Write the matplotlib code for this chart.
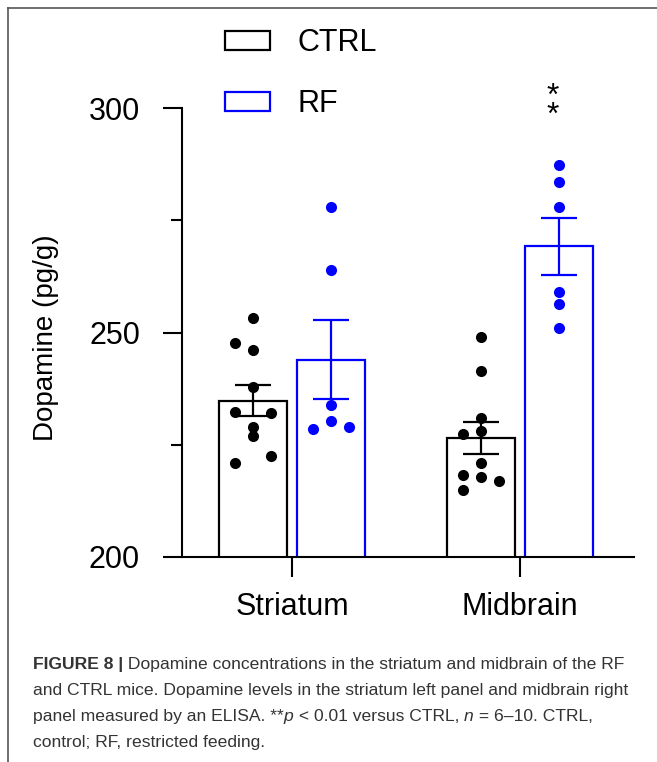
import matplotlib
matplotlib.use("Agg")
import matplotlib.pyplot as plt
from matplotlib.patches import Patch
from matplotlib.lines import Line2D
import numpy as np

plt.rcParams['font.family'] = ['Liberation Sans', 'DejaVu Sans']

regions = ['Striatum', 'Midbrain']
groups = ['CTRL', 'RF']
group_colors = ['black', '#0000ff']

# dopamine (pg/g), one value per mouse
striatum_ctrl = [253.2, 247.6, 246.1, 237.9, 232.2, 232.0, 229.0, 226.9, 222.5, 220.9]
striatum_rf = [278.0, 263.9, 233.9, 230.4, 228.6, 229.0]
midbrain_ctrl = [249.1, 241.4, 230.9, 228.1, 227.4, 221.0, 218.3, 217.9, 216.9, 214.9]
midbrain_rf = [287.2, 283.6, 278.0, 259.0, 256.3, 251.1]

# which column each dot sits in (-1 left, 0 centre, 1 right)
striatum_ctrl_side = [0, -1, 0, 0, -1, 1, 0, 0, 1, -1]
striatum_rf_side = [0, 0, 0, 0, -1, 1]
midbrain_ctrl_side = [0, 0, 0, 0, -1, 0, -1, 0, 1, -1]
midbrain_rf_side = [0, 0, 0, 0, 0, 0]

data = [[striatum_ctrl, striatum_rf], [midbrain_ctrl, midbrain_rf]]
sides = [[striatum_ctrl_side, striatum_rf_side], [midbrain_ctrl_side, midbrain_rf_side]]

W, H = 657, 762
fig = plt.figure(figsize=(W / 100, H / 100), dpi=100)
ax = fig.add_axes([182 / W, (H - 557) / H, 452 / W, 449 / H])

offset = 0.172
bar_w = 0.296
dot_step = 0.078

for i, region in enumerate(regions):
    for j, group in enumerate(groups):
        vals = np.array(data[i][j])
        mean = vals.mean()
        sem = vals.std(ddof=1) / np.sqrt(len(vals))
        x = i + (j * 2 - 1) * offset
        c = group_colors[j]
        ax.bar(x, mean, width=bar_w, facecolor='white', edgecolor=c, linewidth=1.6, zorder=2)
        ax.errorbar(x, mean, yerr=sem, fmt='none', ecolor=c, elinewidth=1.6,
                    capsize=13, capthick=1.6, zorder=3)
        xs = x + np.array(sides[i][j]) * dot_step
        ax.plot(xs, vals, 'o', color=c, markersize=8, markeredgewidth=0, zorder=4)

# significance marker over RF midbrain
ax.text(1 + offset - 0.027, 300.4, '*\n*', ha='center', va='center', fontsize=23,
        linespacing=0.5, clip_on=False)

ax.set_xlim(-0.4825, 1.5)
ax.set_ylim(200, 300)
ax.set_xticks([0, 1])
ax.set_xticklabels(regions, fontsize=22)
ax.set_yticks([200, 250, 300])
ax.set_yticks([225, 275], minor=True)
ax.tick_params(axis='y', which='major', length=13.7, width=1.5, labelsize=22, pad=16.5)
ax.tick_params(axis='y', which='minor', length=8, width=1.5)
ax.tick_params(axis='x', length=14.4, width=1.5, pad=11)
for s in ['top', 'right']:
    ax.spines[s].set_visible(False)
for s in ['left', 'bottom']:
    ax.spines[s].set_linewidth(1.5)

fig.text(46 / W, 1 - 338 / H, 'Dopamine (pg/g)', rotation=90, ha='center', va='center', fontsize=20)

handles = [Patch(facecolor='white', edgecolor=c, linewidth=1.6) for c in group_colors]
fig.legend(handles, groups, loc='upper left', bbox_to_anchor=(225 / W, 1 - 28 / H),
           frameon=False, fontsize=22, handlelength=1.47, handleheight=0.6,
           handletextpad=0.9, labelspacing=1.02, borderpad=0, borderaxespad=0)

# grey frame on top and left
fig.add_artist(Line2D([8 / W, 1], [1 - 8 / H, 1 - 8 / H], color='#555555', lw=1.2))
fig.add_artist(Line2D([8 / W, 8 / W], [0, 1 - 8 / H], color='#555555', lw=1.2))

# caption
renderer = fig.canvas.get_renderer()
cap_color = '#333333'


def text_width(s, size, weight='normal', style='normal'):
    t = fig.text(0, 0, 'x' + s + 'x', fontsize=size, fontweight=weight, fontstyle=style)
    ref = fig.text(0, 0, 'xx', fontsize=size, fontweight=weight, fontstyle=style)
    w = t.get_window_extent(renderer).width - ref.get_window_extent(renderer).width
    t.remove()
    ref.remove()
    return w


caption = [
    [('FIGURE 8 |', 'bold', 'normal'), (' Dopamine concentrations in the striatum and midbrain of the RF', 'normal', 'normal')],
    [('and CTRL mice. Dopamine levels in the striatum left panel and midbrain right', 'normal', 'normal')],
    [('panel measured by an ELISA. **', 'normal', 'normal'), ('p', 'normal', 'italic'),
     (' < 0.01 versus CTRL, ', 'normal', 'normal'), ('n', 'normal', 'italic'),
     (' = 6\u201310. CTRL,', 'normal', 'normal')],
    [('control; RF, restricted feeding.', 'normal', 'normal')],
]

cap_size = 10 * 597 / text_width(caption[1][0][0], 10)
baselines = [669, 695, 721, 747]
for line, yb in zip(caption, baselines):
    x = 33
    for s, weight, style in line:
        fig.text(x / W, 1 - yb / H, s, fontsize=cap_size, fontweight=weight, fontstyle=style,
                 color=cap_color, va='baseline', ha='left')
        x += text_width(s, cap_size, weight, style)

fig.savefig('out.png', dpi=100)
